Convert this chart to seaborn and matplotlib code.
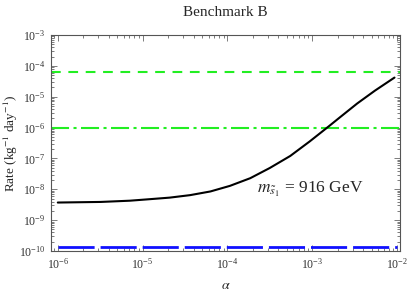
import numpy as np
import pandas as pd
import matplotlib
matplotlib.use("Agg")
import matplotlib.pyplot as plt
import seaborn as sns
from matplotlib.ticker import LogLocator, NullFormatter

# ---- data ----
alpha_curve = [1.0e-6, 3.2e-6, 7.1e-6, 1.23e-5, 2.09e-5, 3.63e-5, 6.31e-5,
               1.07e-4, 1.86e-4, 3.16e-4, 5.50e-4, 9.33e-4, 1.55e-3, 2.14e-3,
               3.39e-3, 5.50e-3, 9.33e-3]
rate_curve = [3.72e-9, 3.89e-9, 4.27e-9, 4.79e-9, 5.37e-9, 6.46e-9, 8.51e-9,
              1.29e-8, 2.29e-8, 4.90e-8, 1.20e-7, 3.55e-7, 1.07e-6, 2.19e-6,
              6.03e-6, 1.58e-5, 4.17e-5]
alpha_range = [1e-6, 1e-2]
rate_blue = [1.3e-10, 1.3e-10]
rate_green_dashed = 6.5e-5
rate_green_dashdot = 1.0e-6

title = "Benchmark B"
xlabel = r"$\alpha$"
ylabel = r"Rate (kg$^{-1}$ day$^{-1}$)"
annotation = r"$m_{\tilde{s}_1}$ = 916 GeV"

sns.set_style("ticks")
plt.rcParams["font.family"] = ["Liberation Serif", "DejaVu Serif"]
plt.rcParams["mathtext.fontset"] = "stix"
plt.rcParams["lines.scale_dashes"] = False

fig = plt.figure(figsize=(4.07, 2.91), dpi=100)
ax = fig.add_axes([51 / 407, 1 - 251 / 291, 349 / 407, 216 / 291])

df_curve = pd.DataFrame({"alpha": alpha_curve, "rate": rate_curve})
df_blue = pd.DataFrame({"alpha": alpha_range, "rate": rate_blue})

ax.axhline(rate_green_dashed, color="#22ee22", lw=1.5, linestyle=(0, (7.0, 5.5)))
ax.axhline(rate_green_dashdot, color="#22ee22", lw=1.5,
           linestyle=(0, (13, 3.2, 2.2, 3.2)))
sns.lineplot(data=df_blue, x="alpha", y="rate", ax=ax, color="#1010ff", lw=2.0,
             linestyle=(0, (26, 4.3)))
sns.lineplot(data=df_curve, x="alpha", y="rate", ax=ax, color="black", lw=1.5)
ax.lines[-1].set_solid_joinstyle("round")

ax.set_xscale("log")
ax.set_yscale("log")
ax.set_xlim(10 ** -6.08, 10 ** -1.965)
ax.set_ylim(1e-10, 1e-3)

ax.xaxis.set_major_locator(LogLocator(base=10, numticks=10))
ax.yaxis.set_major_locator(LogLocator(base=10, numticks=10))
ax.xaxis.set_minor_locator(LogLocator(base=10, subs=np.arange(2, 10), numticks=20))
ax.yaxis.set_minor_locator(LogLocator(base=10, subs=np.arange(2, 10), numticks=20))
ax.xaxis.set_minor_formatter(NullFormatter())
ax.yaxis.set_minor_formatter(NullFormatter())

ax.tick_params(which="both", direction="in", top=True, right=True,
               color="#666666", width=0.6)
ax.tick_params(which="major", length=4, labelsize=8.5, pad=4, labelcolor="#333333")
ax.tick_params(which="minor", length=2)
for s in ax.spines.values():
    s.set_color("#555555")
    s.set_linewidth(0.8)

ax.set_xlabel(xlabel, fontsize=10, labelpad=6)
ax.set_ylabel(ylabel, fontsize=9.5)
ax.yaxis.set_label_coords(-0.09, 0.5)
fig.text((51 + 400) / 2 / 407, 1 - 12 / 291, title, ha="center", va="center",
         fontsize=11)
ax.text(10 ** -3.65, 10 ** -8.0, annotation, fontsize=12.5, ha="left", va="center")

fig.savefig("out.png", dpi=100)
